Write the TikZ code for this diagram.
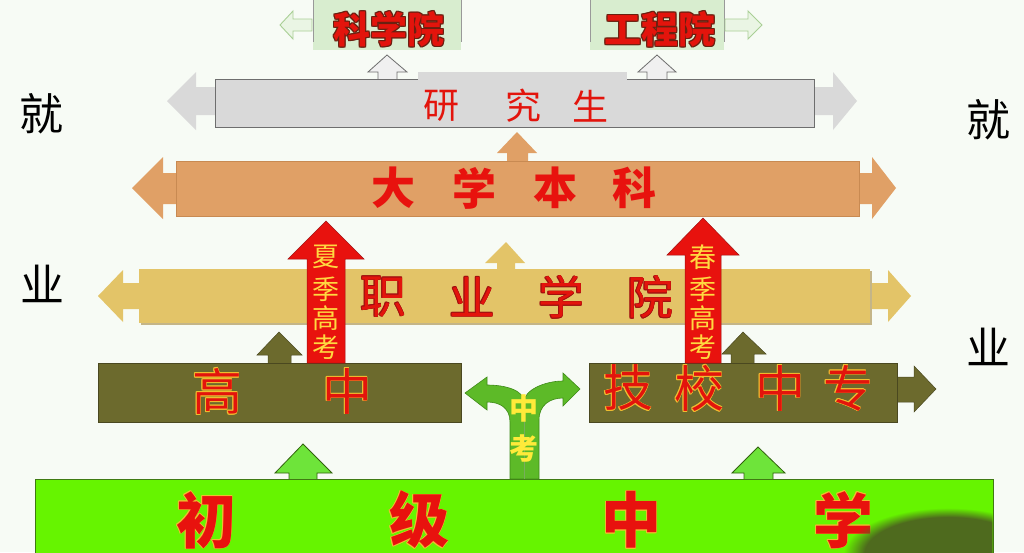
\documentclass[tikz,border=0pt]{standalone}
\usepackage{fontspec}
\newfontfamily\cjk{Noto Sans CJK SC}
\usetikzlibrary{fadings}
\definecolor{bg}{HTML}{F7FBF5}
\definecolor{topg}{HTML}{D8EDCF}
\definecolor{toparr}{HTML}{EAF5E4}
\definecolor{toparrd}{HTML}{A9CF95}
\definecolor{cgray}{HTML}{D9D9D9}
\definecolor{cgrayd}{HTML}{6E6E6E}
\definecolor{corange}{HTML}{E0A066}
\definecolor{corangd}{HTML}{C88A52}
\definecolor{cyel}{HTML}{E3C468}
\definecolor{cyeld}{HTML}{9C8438}
\definecolor{colive}{HTML}{6C6A2D}
\definecolor{colived}{HTML}{4A4820}
\definecolor{cred}{HTML}{E8120E}
\definecolor{credd}{HTML}{A01010}
\definecolor{clime}{HTML}{66F400}
\definecolor{climed}{HTML}{3F7A12}
\definecolor{cgreen}{HTML}{5DBA28}
\definecolor{cgreend}{HTML}{3E8A18}
\definecolor{cuparr}{HTML}{6EE43A}
\definecolor{tred}{HTML}{E3140C}
\definecolor{tyel}{HTML}{FFD940}
\definecolor{tyel2}{HTML}{FFEA3A}
\definecolor{toutl}{HTML}{F0BE30}
\definecolor{tdark}{HTML}{6A2010}
\definecolor{smudge}{HTML}{4E6A1E}
\newcommand\fsz[1]{\fontsize{#1pt}{#1pt}\selectfont}
\newcommand\olw[3]{\leavevmode\rlap{\color{#1}\hspace*{#2}#3}\rlap{\color{#1}\hspace*{-#2}#3}\rlap{\color{#1}\raisebox{#2}{#3}}\rlap{\color{#1}\raisebox{-#2}{#3}}\rlap{\color{#1}\hspace*{#2}\raisebox{#2}{#3}}\rlap{\color{#1}\hspace*{-#2}\raisebox{#2}{#3}}\rlap{\color{#1}\hspace*{#2}\raisebox{-#2}{#3}}\rlap{\color{#1}\hspace*{-#2}\raisebox{-#2}{#3}}#3}
\begin{document}
\begin{tikzpicture}[x=1pt,y=-1pt,
  lbl/.style={inner sep=0pt,outer sep=0pt},
  topbox/.style={fill=topg},
  topline/.style={draw=gray!80,line width=0.8pt},
  toparrow/.style={fill=toparr,draw=toparrd,line width=0.9pt},
  grayup/.style={fill=gray!12,draw=cgrayd,line width=0.8pt},
  grayshape/.style={fill=cgray},
  grayframe/.style={fill=cgray,draw=cgrayd,line width=0.9pt},
  orshape/.style={fill=corange},
  orframe/.style={fill=corange,draw=corangd,line width=0.6pt},
  yelshape/.style={fill=cyel},
  olshape/.style={fill=colive,draw=colived,line width=0.5pt},
  redarrow/.style={fill=cred,draw=credd,line width=0.5pt},
  limebox/.style={fill=clime,draw=climed,line width=0.9pt},
  greenup/.style={fill=cuparr,draw=climed!80!black,line width=0.8pt},
  yarrow/.style={fill=cgreen,draw=cgreend,line width=0.6pt},
  side/.style={lbl,font=\cjk\fsz{44},text=black},
  vtxt/.style={lbl,font=\cjk\fsz{27},text=tyel},
]
\useasboundingbox (0,0) rectangle (1024,552);
\fill[bg] (0,0) rectangle (1024,552);

% ---------- top boxes ----------
\fill[topbox] (313,0) rectangle (461,50);
\fill[topbox] (590,0) rectangle (724,50);
\draw[topline] (313,0) -- (313,42);
\draw[topline] (461,0) -- (461,42);
\draw[topline] (590,0) -- (590,42);
\draw[topline] (724,0) -- (724,42);
\filldraw[toparrow] (312,19) -- (293,19) -- (293,11) -- (280,25) -- (293,39) -- (293,31) -- (312,31) -- cycle;
\filldraw[toparrow] (725,19) -- (748,19) -- (748,11) -- (762,25) -- (748,39) -- (748,31) -- (725,31) -- cycle;
\node[lbl,font=\cjk\bfseries\fsz{37},text=tred] (kxy) at (389,29) {\olw{tdark}{0.8pt}{科学院}};
\node[lbl,font=\cjk\bfseries\fsz{37},text=tred] (gcy) at (660,29) {\olw{tdark}{0.8pt}{工程院}};

% ---------- graduate bar ----------
\filldraw[grayup] (378,80) -- (378,72) -- (368,72) -- (387,55) -- (407,72) -- (397,72) -- (397,80) -- cycle;
\filldraw[grayup] (647,80) -- (647,72) -- (638,72) -- (657,55) -- (676,72) -- (667,72) -- (667,80) -- cycle;
\fill[grayshape] (216,87) -- (196,87) -- (196,72) -- (167,101) -- (196,130) -- (196,115) -- (216,115) -- cycle;
\fill[grayshape] (813,87) -- (833,87) -- (833,72) -- (857,101) -- (833,130) -- (833,115) -- (813,115) -- cycle;
\filldraw[grayframe] (215,79) rectangle (814,127);
\fill[grayshape] (418,72) rectangle (627,126);
\foreach \c/\x/\i in {研/441/1,究/523/2,生/590/3}
  \node[lbl,font=\cjk\fsz{36},text=tred] (yjs\i) at (\x,106) {\c};

% ---------- university bar ----------
\fill[orshape] (507,162) -- (507,153) -- (497,153) -- (517,132) -- (537,153) -- (528,153) -- (528,162) -- cycle;
\fill[orshape] (177,173) -- (163,173) -- (163,157) -- (132,188) -- (163,219) -- (163,204) -- (177,204) -- cycle;
\fill[orshape] (858,173) -- (872,173) -- (872,157) -- (896,188) -- (872,219) -- (872,204) -- (858,204) -- cycle;
\filldraw[orframe] (176,161) rectangle (859,216);
\foreach \c/\x/\i in {大/393/1,学/474/2,本/555/3,科/634/4}
  \node[lbl,font=\cjk\bfseries\fsz{44},text=cred] (dxbk\i) at (\x,188) {\c};

% ---------- vocational college bar ----------
\fill[yelshape] (497,270) -- (497,263) -- (485,263) -- (506,242) -- (525,263) -- (515,263) -- (515,270) -- cycle;
\fill[yelshape] (140,283) -- (123,283) -- (123,270) -- (98,296) -- (123,322) -- (123,309) -- (140,309) -- cycle;
\fill[yelshape] (869,283) -- (888,283) -- (888,270) -- (911,296) -- (888,322) -- (888,309) -- (869,309) -- cycle;
\fill[cyeld!60] (141,271) rectangle (872,325);
\fill[cyel] (139,269) rectangle (870,323);
\foreach \c/\x/\i in {职/383/1,业/472/2,学/561/3,院/650/4}
  \node[lbl,font=\cjk\fsz{46},text=tred] (zyxy\i) at (\x,297) {\olw{credd}{0.5pt}{\c}};

% ---------- olive boxes ----------
\filldraw[olshape] (268,364) -- (268,355) -- (257,355) -- (279,332) -- (302,355) -- (291,355) -- (291,364) -- cycle;
\filldraw[olshape] (731,364) -- (731,354) -- (722,354) -- (743,332) -- (766,354) -- (754,354) -- (754,364) -- cycle;
\filldraw[olshape] (896,377) -- (914,377) -- (914,366) -- (936,389) -- (914,412) -- (914,402) -- (896,402) -- cycle;
\filldraw[olshape] (98,363) rectangle (461,422);
\filldraw[olshape] (589,363) rectangle (897,422);
\foreach \c/\x/\i in {高/217/1,中/347/2}
  \node[lbl,font=\cjk\fsz{50},text=tred] (gz\i) at (\x,391) {\olw{toutl}{0.9pt}{\c}};
\foreach \c/\x/\i in {技/628/1,校/699/2,中/780/3,专/848/4}
  \node[lbl,font=\cjk\fsz{50},text=tred] (jxzz\i) at (\x,388) {\olw{toutl}{0.9pt}{\c}};

% ---------- red exam arrows ----------
\filldraw[redarrow] (307,363) -- (307,259) -- (288,259) -- (326,221) -- (364,259) -- (345,259) -- (345,363) -- cycle;
\filldraw[redarrow] (685,363) -- (685,255) -- (667,255) -- (703,218) -- (739,255) -- (721,255) -- (721,363) -- cycle;
\foreach \c/\y/\i in {夏/257/1,季/289/2,高/318/3,考/347/4}
  \node[vtxt] (xjgk\i) at (326,\y) {\c};
\foreach \c/\y/\i in {春/257/1,季/289/2,高/318/3,考/347/4}
  \node[vtxt] (cjgk\i) at (703,\y) {\c};

% ---------- bottom: junior high ----------
\filldraw[greenup] (289,480) -- (289,473) -- (275,473) -- (303,444) -- (332,473) -- (317,473) -- (317,480) -- cycle;
\filldraw[greenup] (744,480) -- (744,473) -- (732,473) -- (758,447) -- (785,473) -- (773,473) -- (773,480) -- cycle;
\filldraw[limebox] (35,479) rectangle (993,560);
\filldraw[yarrow] (510,479) -- (510,422) .. controls (510,408) and (500,402) .. (487,402)
  -- (487,410) -- (465,393) -- (487,377) -- (487,385)
  .. controls (505,385) and (524,390) .. (524,402)
  .. controls (524,390) and (545,381) .. (563,381)
  -- (563,373) -- (580,389) -- (563,406) -- (563,398)
  .. controls (550,398) and (539,405) .. (539,420) -- (539,479) -- cycle;
\draw[cgreend!70,line width=0.6pt] (524,412) -- (524,479);
\node[lbl,font=\cjk\bfseries\fsz{29},text=tyel2] (zk1) at (524,408) {中};
\node[lbl,font=\cjk\bfseries\fsz{29},text=tyel2] (zk2) at (524,448) {考};
\foreach \c/\x/\i in {初/206/1,级/419/2,中/631/3,学/843/4}
  \node[lbl,font=\cjk\bfseries\fsz{60},text=cred] (cjzx\i) at (\x,520) {\olw{toutl}{0.7pt}{\c}};
\begin{scope}
  \clip (35.5,479.5) rectangle (992.5,552);
  \fill[smudge,path fading=circle with fuzzy edge 20 percent] (948,554) ellipse (104 and 46);
\end{scope}

% ---------- side labels ----------
\node[side] (jl) at (41,114) {就};
\node[side] (yl) at (42,284) {业};
\node[side] (jr) at (988,120) {就};
\node[side] (yr) at (988,347) {业};
\end{tikzpicture}
\end{document}
